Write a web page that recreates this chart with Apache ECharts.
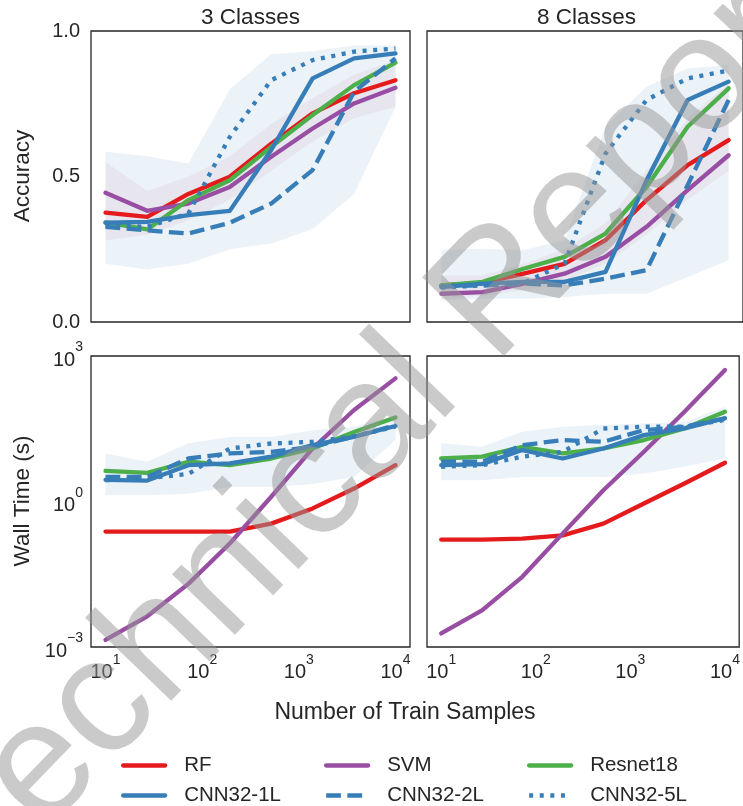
<!DOCTYPE html>
<html>
<head>
<meta charset="utf-8">
<script src="https://cdn.jsdelivr.net/npm/echarts@6/dist/echarts.min.js"></script>
<style>
html, body { margin: 0; padding: 0; background: #ffffff; }
#chart { width: 743px; height: 806px; }
</style>
</head>
<body>
<div id="chart"></div>
<script>
// x values (number of train samples)
const trainSamples = [10, 27, 72, 193, 518, 1389, 3728, 10000];
const panelTitles = ["3 Classes", "8 Classes"];
const modelNames = ["RF", "SVM", "Resnet18", "CNN32-1L", "CNN32-2L", "CNN32-5L"];

// accuracy, 3 classes
const acc3RF = [0.376, 0.361, 0.44, 0.499, 0.613, 0.717, 0.786, 0.831];
const acc3SVM = [0.444, 0.382, 0.407, 0.464, 0.568, 0.665, 0.751, 0.805];
const acc3Resnet = [0.342, 0.318, 0.419, 0.487, 0.602, 0.711, 0.814, 0.891];
const acc3CNN1L = [0.341, 0.344, 0.367, 0.382, 0.591, 0.837, 0.906, 0.923];
const acc3CNN2L = [0.327, 0.315, 0.304, 0.341, 0.407, 0.522, 0.791, 0.906];
const acc3CNN5L = [0.333, 0.327, 0.373, 0.636, 0.831, 0.9, 0.929, 0.94];
const acc3TrialLow = [0.2, 0.18, 0.2, 0.25, 0.27, 0.32, 0.44, 0.74];
const acc3TrialHigh = [0.585, 0.57, 0.545, 0.8, 0.92, 0.93, 0.95, 0.95];
const acc3OtherLow = [0.28, 0.3, 0.35, 0.42, 0.52, 0.62, 0.7, 0.74];
const acc3OtherHigh = [0.55, 0.45, 0.5, 0.57, 0.68, 0.77, 0.85, 0.9];

// accuracy, 8 classes
const acc8RF = [0.126, 0.134, 0.166, 0.2, 0.281, 0.419, 0.539, 0.625];
const acc8SVM = [0.097, 0.103, 0.132, 0.166, 0.224, 0.327, 0.453, 0.573];
const acc8Resnet = [0.126, 0.138, 0.183, 0.224, 0.304, 0.464, 0.671, 0.803];
const acc8CNN1L = [0.12, 0.132, 0.138, 0.138, 0.172, 0.487, 0.763, 0.826];
const acc8CNN2L = [0.123, 0.126, 0.132, 0.126, 0.149, 0.178, 0.47, 0.763];
const acc8CNN5L = [0.118, 0.126, 0.134, 0.2, 0.579, 0.763, 0.837, 0.864];
const acc8TrialLow = [0.075, 0.08, 0.08, 0.086, 0.097, 0.097, 0.155, 0.212];
const acc8TrialHigh = [0.247, 0.252, 0.247, 0.281, 0.671, 0.808, 0.872, 0.883];
const acc8OtherLow = [0.08, 0.09, 0.11, 0.14, 0.2, 0.3, 0.42, 0.52];
const acc8OtherHigh = [0.16, 0.16, 0.2, 0.25, 0.34, 0.52, 0.7, 0.82];

// wall time (s), 3 classes
const time3RF = [0.24, 0.24, 0.24, 0.24, 0.35, 0.72, 1.85, 5.6];
const time3SVM = [0.0014, 0.0043, 0.02, 0.136, 1.25, 12.4, 77, 346];
const time3Resnet = [4.3, 3.9, 6.6, 5.6, 7.7, 12.4, 27, 54];
const time3CNN1L = [2.8, 2.7, 5.6, 6.1, 8.4, 14.5, 21.6, 36];
const time3CNN2L = [3.2, 3.2, 7.7, 9.8, 10.6, 13.4, 21.6, 37.6];
const time3CNN5L = [2.75, 3.0, 3.7, 12.4, 15.7, 17, 22.3, 34.8];
const time3TrialLow = [1.35, 1.35, 1.45, 2.0, 2.0, 2.3, 3.2, 18.6];
const time3TrialHigh = [9.8, 6.6, 15.8, 21.4, 21.4, 29.5, 34.7, 60];

// wall time (s), 8 classes
const time8RF = [0.164, 0.164, 0.172, 0.2, 0.35, 0.91, 2.35, 6.3];
const time8SVM = [0.0019, 0.0057, 0.028, 0.22, 1.71, 10.6, 71, 514];
const time8Resnet = [7.7, 8.4, 13.4, 9.8, 12.4, 18.5, 32, 71];
const time8CNN1L = [5.6, 5.9, 11.5, 7.7, 12.4, 23.4, 32, 52];
const time8CNN2L = [6.6, 6.6, 14.5, 18.5, 17, 29.6, 34.8, 52];
const time8CNN5L = [5.2, 5.6, 8.4, 10.6, 32, 34.8, 34.8, 48];
const time8TrialLow = [2.75, 2.75, 3.2, 3.2, 3.2, 3.8, 5.2, 7.8];
const time8TrialHigh = [15.8, 13.5, 27.5, 34.7, 38, 40.7, 43.7, 89];

const panels = [
  [acc3RF, acc3SVM, acc3Resnet, acc3CNN1L, acc3CNN2L, acc3CNN5L],
  [acc8RF, acc8SVM, acc8Resnet, acc8CNN1L, acc8CNN2L, acc8CNN5L],
  [time3RF, time3SVM, time3Resnet, time3CNN1L, time3CNN2L, time3CNN5L],
  [time8RF, time8SVM, time8Resnet, time8CNN1L, time8CNN2L, time8CNN5L],
];
// [panel, low, high, fill]
const bands = [
  [0, acc3TrialLow, acc3TrialHigh, "rgba(55,126,184,0.1)"],
  [1, acc8TrialLow, acc8TrialHigh, "rgba(55,126,184,0.1)"],
  [2, time3TrialLow, time3TrialHigh, "rgba(55,126,184,0.1)"],
  [3, time8TrialLow, time8TrialHigh, "rgba(55,126,184,0.1)"],
  [0, acc3OtherLow, acc3OtherHigh, "rgba(190,80,110,0.07)"],
  [1, acc8OtherLow, acc8OtherHigh, "rgba(190,80,110,0.07)"],
];

const FONT = '"Liberation Sans", Arial, Helvetica, sans-serif';
const INK = "#262626";
const lineLook = [
  { color: "#e41a1c", type: "solid", cap: "round" },
  { color: "#984ea3", type: "solid", cap: "round" },
  { color: "#4daf4a", type: "solid", cap: "round" },
  { color: "#377eb8", type: "solid", cap: "round" },
  { color: "#377eb8", type: [14.8, 6.4], cap: "butt" },
  { color: "#377eb8", type: [4, 6.6], cap: "butt" },
];

function pairs(ys) {
  return trainSamples.map((x, i) => [x, ys[i]]);
}

function powerLabel(value, step) {
  const lg = Math.log10(value);
  const e = Math.round(lg);
  if (Math.abs(lg - e) > 1e-6 || e % step !== 0) return "";
  return "{b|10}{s|" + (e < 0 ? "\u2212" + (-e) : e) + "}";
}

const powerRich = {
  b: { fontSize: 20, lineHeight: 39, verticalAlign: "middle", color: INK, fontFamily: FONT },
  s: { fontSize: 14, lineHeight: 14, verticalAlign: "top", color: INK, fontFamily: FONT },
};

const grids = [
  { left: 91, top: 31, width: 319, height: 291 },
  { left: 427, top: 31, width: 319, height: 291 },
  { left: 91, top: 356, width: 319, height: 291 },
  { left: 427, top: 356, width: 319, height: 291 },
].map((g) => Object.assign(g, { show: true, borderColor: INK, borderWidth: 1.3, backgroundColor: "transparent" }));

const xAxes = grids.map((g, i) => ({
  type: "log",
  logBase: 10,
  gridIndex: i,
  min: Math.pow(10, 0.85),
  max: Math.pow(10, 4.15),
  axisLine: { show: false },
  axisTick: { show: false },
  splitLine: { show: false },
  axisLabel: {
    show: i >= 2,
    margin: 6,
    showMinLabel: false,
    showMaxLabel: false,
    formatter: (v) => powerLabel(v, 1),
    rich: powerRich,
  },
}));

const yAxes = grids.map((g, i) => {
  const common = {
    gridIndex: i,
    axisLine: { show: false },
    axisTick: { show: false },
    splitLine: { show: false },
  };
  if (i < 2) {
    return Object.assign(common, {
      type: "value",
      min: 0,
      max: 1,
      interval: 0.5,
      axisLabel: {
        show: i === 0,
        margin: 11,
        fontSize: 20,
        color: INK,
        fontFamily: FONT,
        formatter: (v) => v.toFixed(1),
      },
    });
  }
  return Object.assign(common, {
    type: "log",
    logBase: 10,
    min: 0.001,
    max: 1000,
    axisLabel: {
      show: i === 2,
      margin: 8,
      padding: [8, 0, 0, 0],
      formatter: (v) => powerLabel(v, 3),
      rich: powerRich,
    },
  });
});

const series = [];
// spread of the individual runs, drawn as faint polygons
bands.forEach(([p, low, high, fill]) => {
  series.push({
    type: "custom",
    xAxisIndex: p,
    yAxisIndex: p,
    silent: true,
    z: 1,
    data: trainSamples.map((x, i) => [x, low[i], high[i]]),
    encode: { x: 0, y: [1, 2] },
    renderItem: (params, api) => {
      if (params.dataIndex !== 0) return;
      const upper = trainSamples.map((x, i) => api.coord([x, high[i]]));
      const lower = trainSamples.map((x, i) => api.coord([x, low[i]])).reverse();
      return {
        type: "polygon",
        shape: { points: upper.concat(lower) },
        style: { fill: fill },
      };
    },
  });
});
panels.forEach((lines, p) => {
  lines.forEach((ys, m) => {
    const look = lineLook[m];
    series.push({
      name: modelNames[m],
      type: "line",
      xAxisIndex: p,
      yAxisIndex: p,
      symbol: "none",
      color: look.color,
      lineStyle: { width: 4.3, type: look.type, cap: look.cap, join: "round", color: look.color },
      data: pairs(ys),
      z: 3,
    });
  });
});

const legendSpots = [
  [121, 755], [324, 755], [527, 755],
  [121, 785], [324, 785], [527, 785],
];
const legends = modelNames.map((name, i) => ({
  data: [name],
  left: legendSpots[i][0],
  top: legendSpots[i][1],
  padding: 0,
  itemWidth: 42,
  itemHeight: 14,
  selectedMode: false,
  itemStyle: { opacity: 0 },
  lineStyle: { width: 4.3 },
  textStyle: { fontSize: 20.5, color: INK, fontFamily: FONT, padding: [0, 0, 0, 14] },
}));

function label(text, x, y, size, rot) {
  return {
    type: "text",
    x: x,
    y: y,
    rotation: rot || 0,
    silent: true,
    style: { text: text, fontSize: size, fontFamily: FONT, fill: INK, align: "center", verticalAlign: "middle" },
  };
}

const option = {
  backgroundColor: "#ffffff",
  animation: false,
  grid: grids,
  xAxis: xAxes,
  yAxis: yAxes,
  legend: legends,
  series: series,
  graphic: [
    label(panelTitles[0], 250.5, 18, 22.5),
    label(panelTitles[1], 586.5, 18, 22.5),
    label("Accuracy", 23, 176, 22.5, Math.PI / 2),
    label("Wall Time (s)", 23, 501, 22.5, Math.PI / 2),
    label("Number of Train Samples", 405, 713, 23),
    {
      type: "text",
      x: 379,
      y: 420,
      rotation: (46 * Math.PI) / 180,
      silent: true,
      z: 100,
      style: {
        text: "Technical Report",
        fontSize: 165,
        fontFamily: FONT,
        fill: "rgba(150,150,150,0.5)",
        align: "center",
        verticalAlign: "middle",
      },
    },
  ],
};

const chart = echarts.init(document.getElementById("chart"), null, { renderer: "canvas" });
chart.setOption(option);
</script>
</body>
</html>
